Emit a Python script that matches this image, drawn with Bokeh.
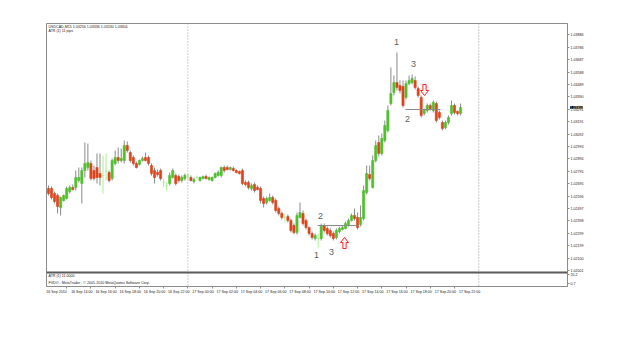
from bokeh.plotting import figure
from bokeh.models import Range1d, LinearAxis, FixedTicker, Span, Label, ColumnDataSource
from bokeh.embed import file_html
from bokeh.resources import INLINE

# ---------------- data ----------------
header_text = "USDCAD,M15  1.03256 1.03336 1.03240 1.03304"
indicator_text = "ATR (1) 11 pips"
sub_title = "ATR (1) 11.0000"
copyright_text = "FVDO - MetaTrader - \u00a9 2001-2010 MetaQuotes Software Corp."

time_tick_bars = [0, 6, 14, 22, 30, 38, 46, 54, 62, 70, 78, 86, 94, 102, 110, 118, 126, 134]
time_tick_labels = ["16 Sep 2010", "16 Sep 14:00", "16 Sep 16:00", "16 Sep 18:00", "16 Sep 20:00",
                    "16 Sep 22:00", "17 Sep 00:00", "17 Sep 02:00", "17 Sep 04:00", "17 Sep 06:00",
                    "17 Sep 08:00", "17 Sep 10:00", "17 Sep 12:00", "17 Sep 14:00", "17 Sep 16:00",
                    "17 Sep 18:00", "17 Sep 20:00", "17 Sep 22:00"]
day_separator_bars = [46, 142]

price_tick_labels = ["1.03886", "1.03786", "1.03687", "1.03588", "1.03489", "1.03390", "1.03291",
                     "1.03191", "1.03092", "1.02993", "1.02894", "1.02795", "1.02695", "1.02596",
                     "1.02497", "1.02398", "1.02299", "1.02199", "1.02100", "1.02001"]
sub_tick_labels = ["20.2", "0.7"]

opens = [
    1.02656, 1.02656, 1.02616, 1.02600, 1.02504, 1.02560, 1.02576, 1.02632, 1.02664, 1.02664,
    1.02720, 1.02696, 1.02800, 1.02824, 1.02856, 1.02800, 1.02824, 1.02776, 1.02760, 1.02792,
    1.02784, 1.02736, 1.02856, 1.02904, 1.02880, 1.02880, 1.03000, 1.02944, 1.02904, 1.02856,
    1.02848, 1.02880, 1.02904, 1.02904, 1.02840, 1.02800, 1.02784, 1.02800, 1.02704, 1.02680,
    1.02696, 1.02744, 1.02760, 1.02752, 1.02720, 1.02736, 1.02760, 1.02744, 1.02712, 1.02744,
    1.02720, 1.02736, 1.02752, 1.02728, 1.02720, 1.02744, 1.02760, 1.02760, 1.02824, 1.02824,
    1.02808, 1.02816, 1.02800, 1.02792, 1.02800, 1.02704, 1.02704, 1.02656, 1.02688, 1.02664,
    1.02656, 1.02576, 1.02544, 1.02560, 1.02584, 1.02560, 1.02496, 1.02456, 1.02424, 1.02432,
    1.02400, 1.02360, 1.02304, 1.02424, 1.02456, 1.02400, 1.02344, 1.02296, 1.02256, 1.02256,
    1.02256, 1.02360, 1.02336, 1.02320, 1.02296, 1.02264, 1.02312, 1.02328, 1.02336, 1.02360,
    1.02400, 1.02440, 1.02424, 1.02368, 1.02416, 1.02624, 1.02768, 1.02664, 1.02880, 1.03024,
    1.02936, 1.03040, 1.03120, 1.03336, 1.03424, 1.03504, 1.03480, 1.03472, 1.03384, 1.03496,
    1.03504, 1.03520, 1.03456, 1.03384, 1.03256, 1.03280, 1.03320, 1.03280, 1.03336, 1.03264,
    1.03184, 1.03144, 1.03184, 1.03256, 1.03320, 1.03272, 1.03256]

closes = [
    1.02616, 1.02584, 1.02552, 1.02512, 1.02584, 1.02600, 1.02656, 1.02664, 1.02648, 1.02744,
    1.02744, 1.02800, 1.02856, 1.02864, 1.02736, 1.02736, 1.02744, 1.02744, 1.02760, 1.02792,
    1.02720, 1.02880, 1.02904, 1.02880, 1.02896, 1.03000, 1.02960, 1.02880, 1.02856, 1.02824,
    1.02880, 1.02896, 1.02880, 1.02856, 1.02776, 1.02744, 1.02768, 1.02736, 1.02704, 1.02680,
    1.02760, 1.02800, 1.02696, 1.02720, 1.02744, 1.02760, 1.02760, 1.02720, 1.02728, 1.02744,
    1.02744, 1.02752, 1.02736, 1.02744, 1.02744, 1.02776, 1.02784, 1.02824, 1.02800, 1.02808,
    1.02824, 1.02800, 1.02784, 1.02776, 1.02696, 1.02688, 1.02664, 1.02680, 1.02640, 1.02648,
    1.02560, 1.02536, 1.02576, 1.02584, 1.02544, 1.02480, 1.02456, 1.02424, 1.02424, 1.02400,
    1.02320, 1.02304, 1.02440, 1.02464, 1.02376, 1.02344, 1.02296, 1.02264, 1.02280, 1.02256,
    1.02360, 1.02320, 1.02296, 1.02280, 1.02256, 1.02320, 1.02336, 1.02344, 1.02376, 1.02400,
    1.02440, 1.02416, 1.02344, 1.02424, 1.02640, 1.02776, 1.02736, 1.02880, 1.03000, 1.02936,
    1.03056, 1.03160, 1.03280, 1.03416, 1.03504, 1.03464, 1.03440, 1.03320, 1.03496, 1.03520,
    1.03536, 1.03464, 1.03400, 1.03240, 1.03280, 1.03320, 1.03296, 1.03344, 1.03200, 1.03224,
    1.03136, 1.03184, 1.03224, 1.03320, 1.03264, 1.03256, 1.03304]

highs = [
    1.02680, 1.02672, 1.02632, 1.02616, 1.02592, 1.02608, 1.02672, 1.02680, 1.02688, 1.02800,
    1.02824, 1.02824, 1.03024, 1.03016, 1.02880, 1.02840, 1.02936, 1.02936, 1.02920, 1.02936,
    1.02800, 1.02896, 1.02960, 1.02984, 1.02976, 1.03040, 1.03032, 1.02960, 1.02920, 1.02872,
    1.02888, 1.02912, 1.02944, 1.02920, 1.02856, 1.02824, 1.02808, 1.02816, 1.02736, 1.02704,
    1.02784, 1.02816, 1.02776, 1.02768, 1.02760, 1.02776, 1.02776, 1.02760, 1.02744, 1.02760,
    1.02752, 1.02760, 1.02768, 1.02752, 1.02752, 1.02784, 1.02800, 1.02832, 1.02840, 1.02840,
    1.02832, 1.02832, 1.02808, 1.02800, 1.02816, 1.02720, 1.02720, 1.02696, 1.02704, 1.02680,
    1.02672, 1.02592, 1.02592, 1.02616, 1.02600, 1.02576, 1.02512, 1.02472, 1.02456, 1.02448,
    1.02416, 1.02376, 1.02464, 1.02544, 1.02480, 1.02416, 1.02352, 1.02312, 1.02296, 1.02296,
    1.02376, 1.02376, 1.02352, 1.02336, 1.02312, 1.02336, 1.02352, 1.02360, 1.02392, 1.02416,
    1.02456, 1.02496, 1.02464, 1.02520, 1.02680, 1.02840, 1.02840, 1.02920, 1.03040, 1.03080,
    1.03096, 1.03200, 1.03320, 1.03624, 1.03560, 1.03744, 1.03520, 1.03520, 1.03520, 1.03560,
    1.03568, 1.03552, 1.03472, 1.03400, 1.03296, 1.03336, 1.03336, 1.03360, 1.03352, 1.03280,
    1.03200, 1.03200, 1.03240, 1.03360, 1.03336, 1.03280, 1.03336]

lows = [
    1.02600, 1.02568, 1.02536, 1.02456, 1.02440, 1.02552, 1.02568, 1.02616, 1.02640, 1.02640,
    1.02704, 1.02536, 1.02744, 1.02800, 1.02720, 1.02720, 1.02696, 1.02680, 1.02616, 1.02720,
    1.02704, 1.02720, 1.02840, 1.02856, 1.02864, 1.02856, 1.02944, 1.02864, 1.02840, 1.02816,
    1.02840, 1.02872, 1.02872, 1.02840, 1.02760, 1.02696, 1.02752, 1.02720, 1.02664, 1.02640,
    1.02680, 1.02736, 1.02680, 1.02704, 1.02704, 1.02720, 1.02728, 1.02712, 1.02696, 1.02728,
    1.02712, 1.02728, 1.02728, 1.02720, 1.02712, 1.02736, 1.02752, 1.02744, 1.02784, 1.02800,
    1.02800, 1.02792, 1.02776, 1.02768, 1.02680, 1.02672, 1.02648, 1.02640, 1.02624, 1.02640,
    1.02536, 1.02504, 1.02528, 1.02552, 1.02528, 1.02464, 1.02440, 1.02408, 1.02384, 1.02384,
    1.02304, 1.02288, 1.02288, 1.02416, 1.02360, 1.02328, 1.02280, 1.02248, 1.02240, 1.02184,
    1.02240, 1.02304, 1.02280, 1.02264, 1.02240, 1.02248, 1.02296, 1.02320, 1.02328, 1.02352,
    1.02392, 1.02400, 1.02328, 1.02352, 1.02400, 1.02608, 1.02720, 1.02656, 1.02864, 1.02912,
    1.02920, 1.03024, 1.03104, 1.03320, 1.03400, 1.03440, 1.03416, 1.03304, 1.03368, 1.03480,
    1.03488, 1.03448, 1.03384, 1.03224, 1.03240, 1.03264, 1.03280, 1.03264, 1.03184, 1.03208,
    1.03120, 1.03128, 1.03168, 1.03240, 1.03248, 1.03240, 1.03240]

# ---------------- styling / layout ----------------
W, H = 625, 351
L_B, R_B, T_B, B_B = 46, 58, 23, 65
BAR_PX = 3.03            # pixel spacing of one M15 bar
FIRST_BAR_PX = 48        # first bar centre (pixel)
PRICE_PER_PX = 0.00008   # vertical scale
PRICE_AT_TOP = 1.03976   # price at frame top (pixel row 23)
SMALL_FONT = "3.6px"
FONT = "Liberation Sans"

frame_w = W - L_B - R_B
frame_h = H - T_B - B_B
x0 = (L_B - FIRST_BAR_PX) / BAR_PX
x1 = x0 + frame_w / BAR_PX
y1 = PRICE_AT_TOP
y0 = y1 - frame_h * PRICE_PER_PX


def px2x(px):
    return (px - FIRST_BAR_PX) / BAR_PX


def py2y(py):
    return PRICE_AT_TOP - (py - T_B) * PRICE_PER_PX


GREEN = "#4fc02c"
RED = "#dc451b"
DOJI = "#a8f08c"
WICK = "#8a8a8a"

n = len(opens)
idx = list(range(n))
body_col, wick_col, tops, bots = [], [], [], []
for o, c in zip(opens, closes):
    if c > o:
        body_col.append(GREEN); wick_col.append(WICK)
    elif c < o:
        body_col.append(RED); wick_col.append(WICK)
    else:
        body_col.append(DOJI); wick_col.append(DOJI)
    tops.append(max(o, c)); bots.append(min(o, c))

src = ColumnDataSource(dict(x=idx, o=opens, c=closes, h=highs, l=lows,
                            top=tops, bot=bots, bc=body_col, wc=wick_col))

p = figure(width=W, height=H, output_backend="svg", toolbar_location=None,
           x_range=Range1d(x0, x1), y_range=Range1d(y0, y1),
           min_border_left=L_B, min_border_right=R_B, min_border_top=T_B, min_border_bottom=B_B,
           x_axis_location=None, y_axis_location=None)
p.grid.visible = False
p.background_fill_color = "white"
p.border_fill_color = "white"
p.outline_line_color = "#8c8c8c"
p.outline_line_width = 1

# day separators
for b in day_separator_bars:
    p.add_layout(Span(location=b, dimension="height", line_color="#9a9a9a",
                      line_dash="1 2", line_width=1))

# subwindow separator
p.add_layout(Span(location=py2y(272), dimension="width", line_color="#5a5a5a", line_width=2))

# candles
p.segment(x0="x", y0="h", x1="x", y1="l", source=src, line_color="wc", line_width=1)
p.vbar(x="x", width=0.72, top="top", bottom="bot", source=src,
       fill_color="bc", line_color="bc", line_width=0.6)

# annotation lines (pattern 1-2-3)
p.line([px2x(317), px2x(358)], [py2y(225), py2y(225)], line_color="#8a8a8a", line_width=1)
p.line([px2x(405), px2x(440)], [py2y(109), py2y(109)], line_color="#8a8a8a", line_width=1)


def arrow(cx_px, top_px, bot_px, up=True):
    hw, sw, head = 4.0, 1.6, 5.0
    if up:
        mid = top_px + head
        pts = [(cx_px, top_px), (cx_px + hw, mid), (cx_px + sw, mid), (cx_px + sw, bot_px),
               (cx_px - sw, bot_px), (cx_px - sw, mid), (cx_px - hw, mid)]
    else:
        mid = bot_px - head
        pts = [(cx_px, bot_px), (cx_px + hw, mid), (cx_px + sw, mid), (cx_px + sw, top_px),
               (cx_px - sw, top_px), (cx_px - sw, mid), (cx_px - hw, mid)]
    p.patch([px2x(a) for a, b in pts], [py2y(b) for a, b in pts],
            fill_color="white", line_color="#ff1e1e", line_width=1)


arrow(344, 237, 248, up=True)
arrow(424, 84, 95, up=False)

num_style = dict(text_color="#606060", text_font_size="9px", text_font=FONT,
                 text_align="center", text_baseline="middle")
for t, xp, yp in [("1", 396, 41), ("3", 413, 63), ("2", 407, 118),
                  ("2", 320, 215), ("1", 316, 254), ("3", 331, 251)]:
    p.add_layout(Label(x=px2x(xp), y=py2y(yp), text=t, **num_style))

small = dict(text_color="#202020", text_font_size=SMALL_FONT, text_font=FONT,
             text_baseline="middle", text_align="left")
p.add_layout(Label(x=px2x(48), y=py2y(26), text=header_text, **small))
p.add_layout(Label(x=px2x(48), y=py2y(30.5), text=indicator_text, **small))
p.add_layout(Label(x=px2x(48), y=py2y(275), text=sub_title, **small))
p.add_layout(Label(x=px2x(48), y=py2y(282.5), text=copyright_text, **small))

# right (price) axis
price_ticks = [float(s) for s in price_tick_labels]
sub_ticks = [py2y(274), py2y(283)]
yt = price_ticks + sub_ticks
overrides = {v: s for v, s in zip(price_ticks, price_tick_labels)}
overrides.update({v: s for v, s in zip(sub_ticks, sub_tick_labels)})
ya = LinearAxis(ticker=FixedTicker(ticks=yt), major_label_overrides=overrides,
                axis_line_color="#8c8c8c", major_tick_line_color="#8c8c8c",
                major_tick_out=2, major_tick_in=0, minor_tick_out=0, minor_tick_in=0,
                major_label_standoff=1, major_label_text_font_size=SMALL_FONT,
                major_label_text_font=FONT, major_label_text_color="#202020")
p.add_layout(ya, "right")

# bottom (time) axis: labels start just right of their tick, so the (centred) label
# anchor is shifted right of the tick by half a label width
LABEL_SHIFT = 5.0
label_pos = [x0 + 3.3] + [b + LABEL_SHIFT for b in time_tick_bars[1:]]
xa = LinearAxis(ticker=FixedTicker(ticks=label_pos, minor_ticks=time_tick_bars[1:]),
                major_label_overrides={v: s for v, s in zip(label_pos, time_tick_labels)},
                axis_line_color="#8c8c8c", major_tick_line_color=None,
                minor_tick_line_color="#8c8c8c",
                major_tick_out=0, major_tick_in=0, minor_tick_out=2, minor_tick_in=0,
                major_label_standoff=1, major_label_text_font_size=SMALL_FONT,
                major_label_text_font=FONT, major_label_text_color="#202020")
p.add_layout(xa, "below")

# current price marker (placed in the right side panel so it is not clipped)
p.add_layout(Label(x=px2x(569.5), y=closes[-1], text=f"{closes[-1]:.5f}", text_color="white",
                   background_fill_color="black", text_font_size=SMALL_FONT, text_font=FONT,
                   text_baseline="middle", text_align="left"), "right")

open("out.html", "w").write(file_html(p, INLINE))
